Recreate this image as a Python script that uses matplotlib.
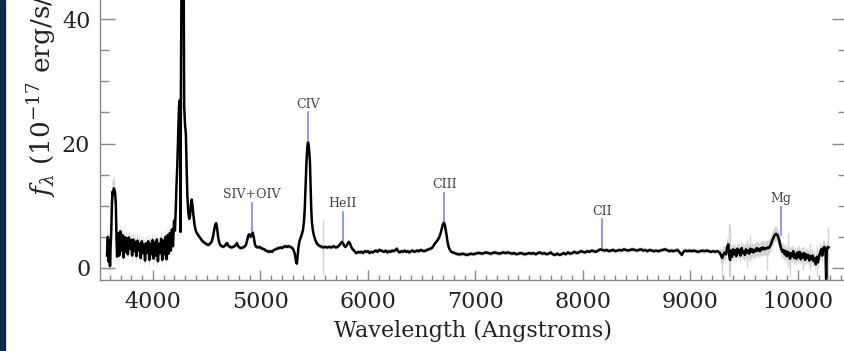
import numpy as np
import matplotlib.pyplot as plt
from matplotlib.ticker import MultipleLocator
from matplotlib.patches import Rectangle

plt.rcParams['font.family'] = 'DejaVu Serif'
plt.rcParams['mathtext.fontset'] = 'dejavuserif'

# observed spectrum, wavelength in Angstroms, flux in 1e-17 erg/s/cm^2/A
wave = [
    3572, 3580, 3588, 3595, 3600, 3606, 3612, 3618, 3624, 3630,
    3636, 3642, 3648, 3654, 3660, 3666, 3676, 3686, 3696, 3706,
    3716, 3726, 3736, 3746, 3756, 3766, 3776, 3786, 3796, 3806,
    3816, 3826, 3836, 3846, 3856, 3866, 3876, 3886, 3896, 3906,
    3916, 3926, 3936, 3946, 3956, 3966, 3976, 3986, 3996, 4006,
    4016, 4026, 4036, 4046, 4056, 4066, 4076, 4086, 4096, 4106,
    4116, 4126, 4136, 4146, 4156, 4166, 4176, 4186, 4196, 4204,
    4212, 4218, 4226, 4234, 4242, 4250, 4256, 4260, 4266, 4272,
    4278, 4284, 4290, 4298, 4306, 4313, 4320, 4329, 4337, 4345,
    4353, 4360, 4368, 4376, 4386, 4396, 4408, 4420, 4436, 4452,
    4468, 4484, 4500, 4515, 4530, 4545, 4558, 4570, 4580, 4588,
    4596, 4606, 4616, 4626, 4640, 4655, 4670, 4682, 4690, 4700,
    4715, 4730, 4745, 4760, 4772, 4782, 4792, 4805, 4820, 4835,
    4850, 4865, 4878, 4888, 4898, 4908, 4918, 4928, 4938, 4948,
    4960, 4975, 4990, 5005, 5020, 5035, 5050, 5065, 5080, 5095,
    5110, 5125, 5140, 5155, 5170, 5185, 5200, 5215, 5230, 5245,
    5260, 5275, 5290, 5302, 5314, 5324, 5332, 5338, 5344, 5352,
    5362, 5374, 5386, 5396, 5404, 5412, 5420, 5428, 5436, 5442,
    5448, 5454, 5460, 5466, 5472, 5478, 5486, 5496, 5508, 5522,
    5538, 5555, 5570, 5585, 5600, 5620, 5640, 5660, 5680, 5700,
    5718, 5735, 5748, 5758, 5768, 5778, 5788, 5798, 5810, 5822,
    5834, 5846, 5858, 5870, 5882, 5895, 5910, 5925, 5940, 5955,
    5970, 5985, 6000, 6015, 6030, 6045, 6060, 6075, 6090, 6105,
    6120, 6135, 6150, 6165, 6180, 6195, 6210, 6225, 6240, 6255,
    6268, 6280, 6295, 6310, 6325, 6340, 6355, 6370, 6385, 6400,
    6415, 6430, 6445, 6460, 6475, 6490, 6505, 6520, 6535, 6550,
    6565, 6580, 6595, 6610, 6625, 6640, 6652, 6664, 6676, 6686,
    6696, 6706, 6714, 6722, 6730, 6740, 6750, 6762, 6775, 6790,
    6805, 6820, 6840, 6860, 6880, 6900, 6920, 6940, 6960, 6980,
    7000, 7020, 7040, 7060, 7080, 7100, 7120, 7140, 7160, 7180,
    7200, 7220, 7240, 7260, 7280, 7300, 7320, 7340, 7360, 7380,
    7400, 7420, 7440, 7460, 7480, 7500, 7520, 7540, 7560, 7580,
    7600, 7620, 7640, 7660, 7680, 7700, 7720, 7740, 7760, 7780,
    7800, 7820, 7840, 7860, 7880, 7900, 7920, 7940, 7960, 7980,
    8000, 8020, 8040, 8060, 8080, 8100, 8120, 8140, 8160, 8180,
    8200, 8220, 8240, 8260, 8280, 8300, 8320, 8340, 8360, 8380,
    8400, 8420, 8440, 8460, 8480, 8500, 8520, 8540, 8560, 8580,
    8600, 8620, 8640, 8660, 8680, 8700, 8720, 8740, 8760, 8780,
    8800, 8820, 8840, 8860, 8880, 8900, 8920, 8935, 8950, 8970,
    8990, 9010, 9030, 9050, 9070, 9090, 9110, 9130, 9150, 9170,
    9190, 9210, 9230, 9250, 9270, 9285, 9295, 9305, 9318, 9330,
    9342, 9352, 9360, 9368, 9376, 9386, 9396, 9406, 9416, 9426,
    9436, 9446, 9456, 9466, 9476, 9486, 9496, 9506, 9516, 9526,
    9536, 9546, 9556, 9566, 9576, 9586, 9596, 9606, 9616, 9626,
    9636, 9646, 9656, 9666, 9676, 9686, 9696, 9706, 9716, 9726,
    9736, 9748, 9760, 9772, 9784, 9796, 9806, 9816, 9826, 9836,
    9846, 9856, 9866, 9876, 9886, 9896, 9906, 9916, 9926, 9936,
    9946, 9956, 9966, 9976, 9986, 9996, 10006, 10016, 10026, 10036,
    10046, 10056, 10066, 10076, 10086, 10096, 10106, 10116, 10126, 10136,
    10146, 10156, 10166, 10176, 10186, 10196, 10206, 10216, 10226, 10236,
    10246, 10256, 10262, 10268, 10276, 10284,
]
flux = [
    2.0, 5.0, 1.0, 4.5, 0.3, 3.5, 6.0, 10.5, 12.3, 11.8,
    12.8, 12.5, 12.0, 10.5, 5.0, 1.8, 5.6, 2.0, 5.9, 2.8,
    5.3, 1.7, 5.0, 2.6, 4.8, 2.2, 4.9, 3.1, 4.5, 2.0,
    4.6, 2.7, 4.2, 1.9, 4.4, 2.8, 3.9, 1.6, 4.3, 2.4,
    3.8, 1.2, 4.0, 2.5, 4.3, 1.3, 3.9, 2.2, 4.5, 1.5,
    4.1, 2.0, 4.6, 1.1, 3.9, 2.4, 4.7, 1.3, 4.4, 2.2,
    5.0, 1.4, 5.3, 2.3, 5.6, 2.8, 6.2, 3.5, 7.6, 6.0,
    9.5, 13.0, 16.5, 21.0, 26.0, 27.0, 5.8, 30.0, 48.0, 60.0,
    62.0, 52.0, 26.0, 23.0, 21.5, 16.0, 11.5, 8.8, 7.9, 8.4,
    10.2, 11.0, 10.0, 8.5, 7.0, 6.1, 5.6, 5.3, 4.9, 4.5,
    4.2, 4.0, 3.8, 3.7, 3.9, 4.2, 5.0, 6.2, 7.0, 7.2,
    6.4, 5.0, 4.1, 3.7, 3.5, 3.4, 3.6, 3.9, 4.0, 3.6,
    3.4, 3.3, 3.4, 3.5, 3.8, 4.0, 3.5, 3.3, 3.2, 3.3,
    3.4, 3.7, 4.6, 5.3, 5.4, 5.0, 5.3, 5.7, 4.9, 3.8,
    3.4, 3.3, 3.4, 3.2, 3.1, 3.0, 2.8, 2.7, 2.6, 2.7,
    2.6, 2.9, 3.0, 3.1, 3.2, 3.3, 3.2, 3.4, 3.5, 3.4,
    3.5, 3.4, 3.3, 3.1, 2.6, 1.8, 0.9, 0.7, 1.6, 3.2,
    4.3, 4.9, 5.5, 6.2, 7.4, 9.6, 13.2, 17.2, 19.6, 20.2,
    19.8, 18.6, 17.0, 13.5, 9.5, 7.4, 6.2, 5.3, 4.6, 4.0,
    3.7, 3.5, 3.4, 3.3, 3.4, 3.3, 3.4, 3.3, 3.5, 3.3,
    3.4, 3.7, 4.0, 4.2, 4.0, 3.6, 3.4, 3.5, 3.9, 4.2,
    3.9, 3.3, 3.0, 2.8, 2.5, 2.4, 2.6, 2.5, 2.6, 2.4,
    2.7, 2.6, 2.7, 2.4, 2.6, 2.5, 2.7, 2.8, 2.6, 2.9,
    2.8, 2.7, 2.6, 2.8, 2.5, 2.7, 2.6, 2.8, 2.7, 2.9,
    3.1, 2.7, 2.5, 2.7, 2.6, 2.8, 2.6, 2.7, 2.5, 2.7,
    2.8, 2.6, 2.7, 2.8, 2.7, 2.9, 2.8, 2.7, 2.8, 2.9,
    3.0, 3.1, 3.2, 3.6, 4.0, 4.3, 4.6, 5.0, 5.6, 6.3,
    7.0, 7.3, 7.0, 6.2, 5.4, 4.2, 3.4, 2.9, 2.6, 2.5,
    2.4, 2.3, 2.2, 2.2, 2.3, 2.2, 2.1, 2.2, 2.3, 2.2,
    2.3, 2.4, 2.4, 2.3, 2.4, 2.5, 2.4, 2.3, 2.4, 2.5,
    2.4, 2.3, 2.4, 2.5, 2.4, 2.5, 2.4, 2.3, 2.4, 2.2,
    2.3, 2.4, 2.3, 2.2, 2.3, 2.4, 2.3, 2.4, 2.2, 2.4,
    2.5, 2.3, 2.4, 2.2, 2.3, 2.5, 2.2, 2.1, 2.3, 2.1,
    2.2, 2.4, 2.2, 2.5, 2.3, 2.4, 2.6, 2.4, 2.5, 2.7,
    2.6, 2.5, 2.7, 2.6, 2.8, 2.7, 2.6, 2.8, 3.0, 2.9,
    2.8, 2.9, 2.7, 2.8, 2.9, 2.7, 2.8, 2.9, 2.8, 3.0,
    2.9, 2.8, 2.9, 3.0, 2.9, 2.8, 2.9, 3.0, 2.8, 2.9,
    2.7, 2.9, 2.8, 2.7, 2.8, 2.7, 2.8, 2.9, 3.0, 2.9,
    2.7, 2.8, 2.7, 2.8, 2.9, 2.5, 2.1, 2.6, 2.8, 2.7,
    2.8, 2.7, 2.8, 2.7, 2.6, 2.7, 2.8, 2.7, 2.8, 2.7,
    2.6, 2.7, 2.6, 2.7, 2.5, 2.0, 1.6, 2.1, 2.5, 2.2,
    3.4, 3.8, 2.0, 1.3, 2.8, 1.8, 3.0, 2.2, 2.9, 1.9,
    3.1, 2.4, 2.9, 2.0, 3.2, 2.4, 2.7, 2.1, 3.0, 2.5,
    2.8, 2.3, 3.1, 2.6, 3.0, 2.5, 2.9, 2.7, 3.2, 2.8,
    3.1, 2.7, 3.2, 3.0, 3.3, 3.0, 3.2, 3.1, 3.3, 3.2,
    3.4, 3.8, 4.4, 4.9, 5.3, 5.5, 5.4, 5.0, 4.4, 3.6,
    3.0, 2.6, 2.9, 2.2, 2.7, 1.9, 2.6, 2.3, 1.5, 2.4,
    1.9, 2.7, 1.6, 2.2, 1.5, 2.5, 1.8, 2.6, 1.4, 2.3,
    1.7, 2.4, 1.3, 2.2, 1.6, 2.1, 1.2, 1.9, 1.4, 2.0,
    1.1, 1.6, 0.6, 1.8, 0.9, 1.9, 2.4, 3.0, 2.0, 3.2,
    3.4, 2.6, -1.8, 2.8, 3.4, 3.3,
]

# noise level per wavelength range
err_edges = [3560, 3690, 4200, 9280, 10300]
err_levels = [2.0, 1.4, 0.35, 1.2]

# sky-line residuals in the raw spectrum
sky_wave = [5581, 9290, 9358, 9367, 9523, 9553, 9709, 9907, 9925, 10046, 10112, 10174, 10279]
sky_lo = [-1.0, -1.4, -1.4, -1.4, 0.2, 0.9, -0.3, 0.2, -1.4, -0.3, -0.3, -1.4, -1.9]
sky_hi = [7.7, 3.0, 7.2, 6.9, 4.5, 5.3, 4.5, 5.6, 3.4, 3.4, 4.0, 3.6, 6.6]

# emission lines, rest wavelengths
redshift = 2.515
line_names = ['SIV+OIV', 'CIV', 'HeII', 'CIII', 'CII', 'Mg']
line_rest = [1399.8, 1549.1, 1640.4, 1908.7, 2326.0, 2798.8]

wave = np.array(wave, dtype=float)
flux = np.array(flux)
idx = np.clip(np.searchsorted(err_edges, wave, side='right') - 1, 0, len(err_levels) - 1)
err = np.array(err_levels)[idx]

fig = plt.figure(figsize=(8.45, 3.51), dpi=100)
fig.add_artist(Rectangle((0, 0), 5 / 845, 1, transform=fig.transFigure,
                         color='#0c2a4c', zorder=10))
ax = fig.add_axes([100 / 845, 71 / 351, 747 / 845, 300 / 351])

ax.fill_between(wave, flux - err, flux + err, color='#d4d4d4', lw=0, zorder=1)
ax.vlines(sky_wave, sky_lo, sky_hi, color='#d4d4d4', lw=1, zorder=1)
ax.plot(wave, flux, color='black', lw=1.8, zorder=2)

for name, rest in zip(line_names, line_rest):
    lam = rest * (1 + redshift)
    near = np.abs(wave - lam) <= 30
    base = flux[near].max() + 0.3
    ax.plot([lam, lam], [base, base + 4.5], color='#8080ff', lw=1.2, zorder=3)
    ax.text(lam, base + 5.3, name, ha='center', va='baseline',
            fontsize=9, color='#444444')

ax.set_xlim(3507, 10456)
ax.set_ylim(-1.93, 46.3)
ax.xaxis.set_major_locator(MultipleLocator(1000))
ax.xaxis.set_minor_locator(MultipleLocator(100))
ax.yaxis.set_major_locator(MultipleLocator(20))
ax.yaxis.set_minor_locator(MultipleLocator(5))

for s in ax.spines.values():
    s.set_color('#888888')
    s.set_linewidth(1)
ax.spines['top'].set_visible(False)

ax.tick_params(which='both', direction='in', color='#888888', width=1,
               right=True, top=False, labelsize=16, labelcolor='#222222')
ax.tick_params(axis='x', which='major', length=7, pad=8)
ax.tick_params(axis='x', which='minor', length=3.5)
ax.tick_params(axis='y', which='major', length=10.5, pad=7)
ax.tick_params(axis='y', which='minor', length=6.5)

ax.set_xlabel('Wavelength (Angstroms)', fontsize=16, color='#222222', labelpad=5)
fig.text(40 / 845, 1 - 197 / 351, r'$f_\lambda$ (10$^{-17}$ erg/s/cm$^2$/Å)',
         rotation=90, ha='center', va='bottom', fontsize=19, color='#222222')

fig.savefig('out.png', dpi=100)
